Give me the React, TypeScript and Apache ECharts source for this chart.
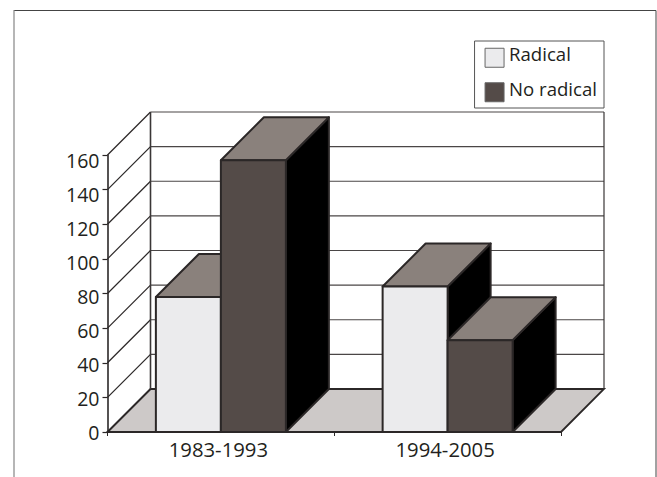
import React, { useEffect, useRef } from "react";
import * as echarts from "echarts";

const categories = ["1983-1993", "1994-2005"];
const radical = [78, 84];
const noRadical = [157, 53];
const yTicks = [0, 20, 40, 60, 80, 100, 120, 140, 160];
const wallTop = [160];

const DEPTH = 43;
const BAR_W = 65;
const EDGE = "#2b2727";
const FONT = "'Open Sans', 'Noto Sans', sans-serif";
const TICK_FONT = 19.5;

// The reference's value labels sit on a slightly tighter spacing than its ticks.
const tickRich: Record<string, any> = {};
yTicks.forEach((t) => {
  tickRich["t" + t] = {
    fontFamily: FONT,
    fontSize: TICK_FONT,
    color: "#231f20",
    padding: [(t / 160) * 10, 0, 0, 0],
  };
});

function barRenderer(offsetSign: number, face: string) {
  return (_p: any, api: any) => {
    const idx = api.value(0);
    const val = api.value(1);
    const [cx, y1] = api.coord([idx, val]);
    const [, y0] = api.coord([idx, 0]);
    const x0 = offsetSign < 0 ? cx - BAR_W : cx;
    const x1 = x0 + BAR_W;
    const line = { stroke: EDGE, lineWidth: 2, lineJoin: "round" };
    return {
      type: "group",
      children: [
        { type: "polygon", shape: { points: [[x1, y1], [x1 + DEPTH, y1 - DEPTH], [x1 + DEPTH, y0 - DEPTH], [x1, y0]] }, style: { fill: "#000000", ...line } },
        { type: "polygon", shape: { points: [[x0, y1], [x0 + DEPTH, y1 - DEPTH], [x1 + DEPTH, y1 - DEPTH], [x1, y1]] }, style: { fill: "#8a817c", ...line } },
        { type: "rect", shape: { x: x0, y: y1, width: BAR_W, height: y0 - y1 }, style: { fill: face, ...line } },
      ],
    };
  };
}

export default function App() {
  const ref = useRef<HTMLDivElement>(null);
  useEffect(() => {
    const chart = echarts.init(ref.current!, undefined, { renderer: "svg" });
    chart.setOption({
      animation: false,
      backgroundColor: "#ffffff",
      textStyle: { fontFamily: FONT },
      grid: { left: 107.5, right: 96, top: 155, bottom: 45 },
      legend: {
        orient: "vertical",
        right: 53,
        top: 41,
        padding: [3.25, 6, 2.25, 10],
        itemGap: 7.5,
        itemWidth: 19,
        itemHeight: 19,
        borderColor: "#555555",
        borderWidth: 1,
        backgroundColor: "#ffffff",
        formatter: "{a|{name}}",
        textStyle: {
          fontFamily: FONT,
          fontSize: 18.6,
          color: "#231f20",
          rich: { a: { fontFamily: FONT, fontSize: 18.6, color: "#231f20", lineHeight: 14, padding: [0, 1, 8, 0] } },
        },
        data: [
          { name: "Radical", icon: "rect", itemStyle: { color: "#ebebed", borderColor: "#666", borderWidth: 1 } },
          { name: "No radical", icon: "rect", itemStyle: { color: "#544b48", borderColor: "#666", borderWidth: 1 } },
        ],
      },
      xAxis: {
        type: "category",
        data: categories,
        axisLine: { onZero: false, lineStyle: { color: EDGE, width: 2 } },
        axisTick: { show: true, alignWithLabel: false, length: 4, lineStyle: { color: EDGE, width: 1 } },
        axisLabel: { fontFamily: FONT, fontSize: 20.3, color: "#231f20", margin: 7, padding: [0, 5, 0, 0] },
        splitLine: { show: false },
      },
      yAxis: {
        type: "value",
        min: 0,
        max: 160,
        interval: 20,
        axisLine: { show: true, lineStyle: { color: EDGE, width: 1.6 } },
        axisTick: { show: true, length: 5, lineStyle: { color: EDGE, width: 1.2 } },
        axisLabel: {
          fontFamily: FONT,
          fontSize: TICK_FONT,
          color: "#231f20",
          margin: 8,
          formatter: (v: number) => `{t${v}|${v}}`,
          rich: tickRich,
        },
        splitLine: { show: false },
      },
      graphic: [
        {
          type: "polyline",
          silent: true,
          shape: { points: [[14, 10.5], [656, 10.5], [656, 477]] },
          style: { fill: "none", stroke: "#444444", lineWidth: 1 },
        },
        {
          type: "line",
          silent: true,
          shape: { x1: 14, y1: 10, x2: 14, y2: 477 },
          style: { stroke: "#858585", lineWidth: 1.2 },
        },
      ],
      series: [
        {
          type: "custom",
          name: "floor",
          coordinateSystem: "cartesian2d",
          silent: true,
          z: 1,
          clip: false,
          data: [[0, 0]],
          renderItem: (p: any, api: any) => {
            const [xl, y0] = [p.coordSys.x, api.coord([0, 0])[1]];
            const xr = p.coordSys.x + p.coordSys.width;
            return {
              type: "polygon",
              shape: { points: [[xl, y0], [xl + DEPTH, y0 - DEPTH], [xr + DEPTH, y0 - DEPTH], [xr, y0]] },
              style: { fill: "#cdc9c8", stroke: EDGE, lineWidth: 1.8 },
            };
          },
        },
        {
          type: "custom",
          name: "wall",
          coordinateSystem: "cartesian2d",
          silent: true,
          z: 1,
          clip: false,
          data: yTicks.map((t) => [0, t]),
          renderItem: (p: any, api: any) => {
            const y = api.coord([0, api.value(1)])[1];
            const xl = p.coordSys.x;
            const xr = xl + p.coordSys.width;
            const s = { stroke: EDGE, lineWidth: 1.2 };
            return {
              type: "group",
              children: [
                { type: "line", shape: { x1: xl, y1: y, x2: xl + DEPTH, y2: y - DEPTH }, style: s },
                ...(api.value(1) > 0
                  ? [{ type: "line", shape: { x1: xl + DEPTH, y1: y - DEPTH, x2: xr + DEPTH, y2: y - DEPTH }, style: { stroke: "#4a4646", lineWidth: 1.2 } }]
                  : []),
              ],
            };
          },
        },
        {
          type: "custom",
          name: "wallEdges",
          coordinateSystem: "cartesian2d",
          silent: true,
          z: 1,
          clip: false,
          data: wallTop.map((t) => [0, t]),
          renderItem: (p: any, api: any) => {
            const yTop = api.coord([0, api.value(1)])[1] - DEPTH;
            const yBot = api.coord([0, 0])[1] - DEPTH;
            const xl = p.coordSys.x + DEPTH;
            const xr = xl + p.coordSys.width;
            const s = { stroke: "#3a3636", lineWidth: 1.6 };
            return {
              type: "group",
              children: [
                { type: "line", shape: { x1: xl, y1: yTop, x2: xl, y2: yBot }, style: s },
                { type: "line", shape: { x1: xr, y1: yTop, x2: xr, y2: yBot }, style: { ...s, lineWidth: 1.2 } },
              ],
            };
          },
        },
        {
          type: "custom",
          name: "Radical",
          coordinateSystem: "cartesian2d",
          z: 2,
          clip: false,
          itemStyle: { color: "#ebebed" },
          encode: { x: 0, y: 1 },
          data: radical.map((v, i) => [i, v]),
          renderItem: barRenderer(-1, "#ebebed"),
        },
        {
          type: "custom",
          name: "No radical",
          coordinateSystem: "cartesian2d",
          z: 3,
          clip: false,
          itemStyle: { color: "#544b48" },
          encode: { x: 0, y: 1 },
          data: noRadical.map((v, i) => [i, v]),
          renderItem: barRenderer(1, "#544b48"),
        },
      ],
    });
    return () => chart.dispose();
  }, []);
  return <div ref={ref} style={{ position: "absolute", left: 0, top: 0, width: 657, height: 477 }} />;
}
